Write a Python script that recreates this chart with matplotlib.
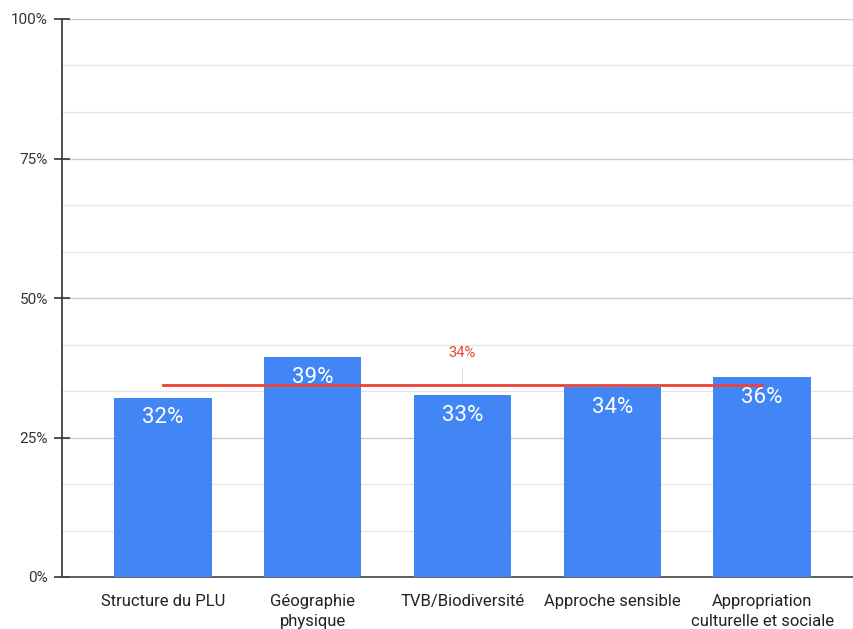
import matplotlib
matplotlib.use("Agg")
import matplotlib.pyplot as plt
import numpy as np

plt.rcParams['font.family'] = ['Roboto', 'DejaVu Sans']

# données
categories = ['Structure du PLU', 'Géographie\nphysique', 'TVB/Biodiversité',
              'Approche sensible', 'Appropriation\nculturelle et sociale']
values = [32.1, 39.4, 32.6, 34.0, 35.8]
bar_labels = ['32%', '39%', '33%', '34%', '36%']
moyenne = 34.4
moyenne_label = '34%'
yticks = [0, 25, 50, 75, 100]

fig = plt.figure(figsize=(8.54, 6.29), dpi=100)
ax = fig.add_axes([62 / 854, 52 / 629, 792 / 854, 558 / 629])

x = np.arange(len(categories))
bars = ax.bar(x, values, width=0.65, color='#4285f4', zorder=3)

for b, lab in zip(bars, bar_labels):
    ax.text(b.get_x() + b.get_width() / 2, b.get_height() - 1.7, lab,
            ha='center', va='top', color='white', fontsize=16, zorder=5)

# ligne de moyenne
ax.plot([x[0], x[-1]], [moyenne, moyenne], color='#ea4335', lw=2, zorder=4)
ax.plot([x[2], x[2]], [moyenne, moyenne + 3], color='#dddddd', lw=0.8, zorder=2)
ax.text(x[2], moyenne + 4.4, moyenne_label, ha='center', va='bottom',
        color='#ea4335', fontsize=10.5, zorder=5)

ax.set_xlim(-0.673, 4.613)
ax.set_ylim(0, 100)
ax.set_yticks(yticks)
ax.set_yticklabels([f'{t}%' for t in yticks])
ax.set_yticks(np.arange(0, 100.1, 25 / 3), minor=True)
ax.yaxis.grid(True, which='major', color='#cccccc', lw=1, zorder=0)
ax.yaxis.grid(True, which='minor', color='#e6e6e6', lw=1, zorder=0)
ax.tick_params(axis='y', which='major', direction='inout', length=12, width=1.2,
               color='#333333', labelsize=11, labelcolor='#333333', pad=4)
ax.tick_params(axis='y', which='minor', length=0)

ax.set_xticks(x)
ax.set_xticklabels(categories, fontsize=12, color='#222222', linespacing=1.45)
ax.tick_params(axis='x', length=0, pad=12)

for s in ['top', 'right']:
    ax.spines[s].set_visible(False)
ax.spines['left'].set_color('#333333')
ax.spines['bottom'].set_color('#444444')
ax.spines['left'].set_linewidth(1.2)
ax.spines['bottom'].set_linewidth(1.2)

fig.savefig('out.png', dpi=100)
